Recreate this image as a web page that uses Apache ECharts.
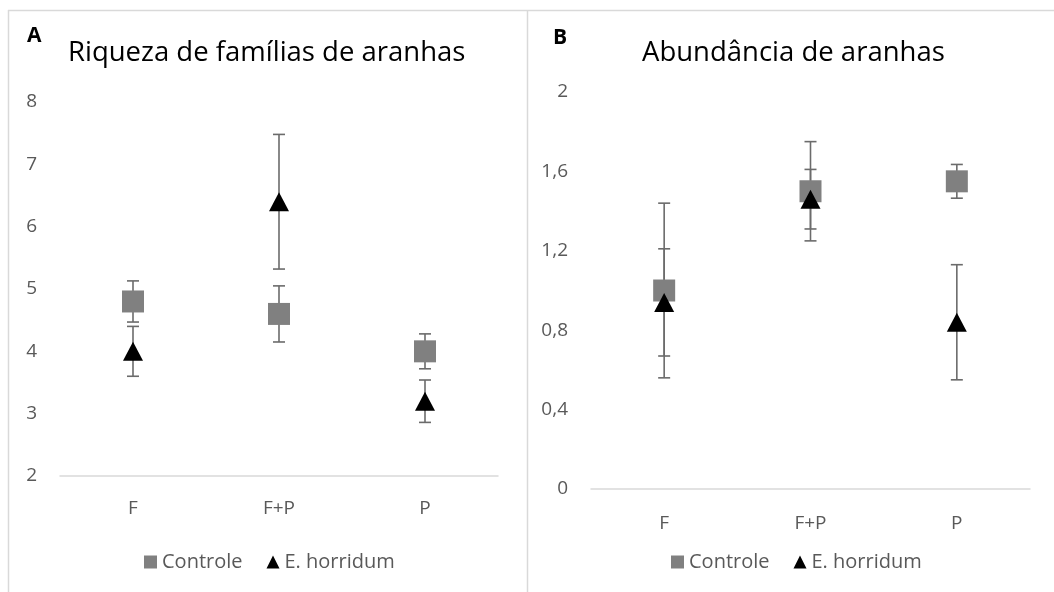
<!DOCTYPE html>
<html>
<head>
<meta charset="utf-8">
<script src="https://cdn.jsdelivr.net/npm/echarts@6/dist/echarts.min.js"></script>
<style>
html,body{margin:0;padding:0;background:#fff;}
#c{width:1054px;height:592px;}
</style>
</head>
<body>
<div id="c"></div>
<script>
// ---- data ----
const categories = ['F', 'F+P', 'P'];
const seriesNames = ['Controle', 'E. horridum'];

// Panel A: Riqueza de famílias de aranhas
const richControle = [4.8, 4.6, 4.0];
const richControleErr = [0.33, 0.45, 0.28];
const richHorridum = [4.0, 6.4, 3.2];
const richHorridumErr = [0.40, 1.08, 0.34];

// Panel B: Abundância de aranhas
const abundControle = [1.0, 1.5, 1.55];
const abundControleErr = [0.44, 0.25, 0.085];
const abundHorridum = [0.94, 1.46, 0.84];
const abundHorridumErr = [0.27, 0.15, 0.29];

const titleA = 'Riqueza de famílias de aranhas';
const titleB = 'Abundância de aranhas';

// ---- helpers ----
const FONT = '"Open Sans", sans-serif';
const GRAY = '#595959';

function errData(vals, errs) {
  return vals.map((v, i) => [i, v - errs[i], v + errs[i]]);
}
function errSeries(name, idx, vals, errs) {
  return {
    type: 'custom',
    name: name,
    xAxisIndex: idx,
    yAxisIndex: idx,
    z: 1,
    silent: true,
    data: errData(vals, errs),
    renderItem: function (params, api) {
      const x = api.value(0);
      const lo = api.coord([x, api.value(1)]);
      const hi = api.coord([x, api.value(2)]);
      const hw = 6;
      const style = { stroke: '#6b6b6b', lineWidth: 1.6 };
      return {
        type: 'group',
        children: [
          { type: 'line', shape: { x1: lo[0], y1: lo[1], x2: hi[0], y2: hi[1] }, style: style },
          { type: 'line', shape: { x1: lo[0] - hw, y1: lo[1], x2: lo[0] + hw, y2: lo[1] }, style: style },
          { type: 'line', shape: { x1: hi[0] - hw, y1: hi[1], x2: hi[0] + hw, y2: hi[1] }, style: style }
        ]
      };
    }
  };
}
function scatter(name, idx, vals, isTri) {
  return {
    type: 'scatter',
    name: name,
    xAxisIndex: idx,
    yAxisIndex: idx,
    z: 3,
    symbol: isTri ? 'triangle' : 'rect',
    symbolSize: isTri ? [20, 19] : 22,
    itemStyle: { color: isTri ? '#000000' : '#808080', opacity: 1 },
    data: vals.map((v, i) => [i, v])
  };
}
function xAxis(idx, margin) {
  return {
    type: 'category',
    gridIndex: idx,
    data: categories,
    boundaryGap: true,
    axisLine: { lineStyle: { color: '#d9d9d9', width: 1.5 } },
    axisTick: { show: false },
    axisLabel: { color: GRAY, fontSize: 19, fontFamily: FONT, margin: margin },
    splitLine: { show: false }
  };
}
function yAxis(idx, min, max, interval, fmt) {
  return {
    type: 'value',
    gridIndex: idx,
    min: min, max: max, interval: interval,
    axisLine: { show: false },
    axisTick: { show: false },
    splitLine: { show: false },
    axisLabel: { color: GRAY, fontSize: 19, fontFamily: FONT, margin: 23, formatter: fmt }
  };
}
function commaFmt(v) {
  let s = (Math.round(v * 10) / 10).toString();
  return s.replace('.', ',');
}

const chart = echarts.init(document.getElementById('c'), null, { renderer: 'canvas' });
const legendStyle = { color: GRAY, fontSize: 20, fontFamily: FONT };
chart.setOption({
  backgroundColor: '#ffffff',
  animation: false,
  grid: [
    { left: 60, top: 102, width: 438, height: 374 },
    { left: 591, top: 92, width: 439, height: 397 }
  ],
  xAxis: [xAxis(0, 23), xAxis(1, 25)],
  yAxis: [yAxis(0, 2, 8, 1), yAxis(1, 0, 2, 0.4, commaFmt)],
  legend: [
    {
      left: 139, top: 547, itemWidth: 13, itemHeight: 13, itemGap: 24,
      textStyle: legendStyle,
      data: [{ name: seriesNames[0], icon: 'rect' }, { name: seriesNames[1], icon: 'triangle' }]
    },
    {
      left: 666, top: 547, itemWidth: 13, itemHeight: 13, itemGap: 24,
      textStyle: legendStyle,
      data: [{ name: seriesNames[0], icon: 'rect' }, { name: seriesNames[1], icon: 'triangle' }]
    }
  ],
  graphic: [
    { type: 'line', shape: { x1: 8, y1: 10.5, x2: 1054, y2: 10.5 }, style: { stroke: '#d9d9d9', lineWidth: 1.5 } },
    { type: 'line', shape: { x1: 8.5, y1: 10, x2: 8.5, y2: 592 }, style: { stroke: '#d9d9d9', lineWidth: 1.5 } },
    { type: 'line', shape: { x1: 527.5, y1: 10, x2: 527.5, y2: 592 }, style: { stroke: '#d9d9d9', lineWidth: 1.5 } },
    { type: 'text', left: 27, top: 26, style: { text: 'A', fontSize: 21, fontWeight: 'bold', fontFamily: FONT, fill: '#000' } },
    { type: 'text', left: 68, top: 39, style: { text: titleA, fontSize: 27.5, fontFamily: FONT, fill: '#000' } },
    { type: 'text', left: 553, top: 28, style: { text: 'B', fontSize: 21, fontWeight: 'bold', fontFamily: FONT, fill: '#000' } },
    { type: 'text', left: 642, top: 39, style: { text: titleB, fontSize: 27.5, fontFamily: FONT, fill: '#000' } }
  ],
  series: [
    errSeries('errA0', 0, richControle, richControleErr),
    errSeries('errA1', 0, richHorridum, richHorridumErr),
    scatter(seriesNames[0], 0, richControle, false),
    scatter(seriesNames[1], 0, richHorridum, true),
    errSeries('errB0', 1, abundControle, abundControleErr),
    errSeries('errB1', 1, abundHorridum, abundHorridumErr),
    scatter(seriesNames[0], 1, abundControle, false),
    scatter(seriesNames[1], 1, abundHorridum, true)
  ]
});
</script>
</body>
</html>
